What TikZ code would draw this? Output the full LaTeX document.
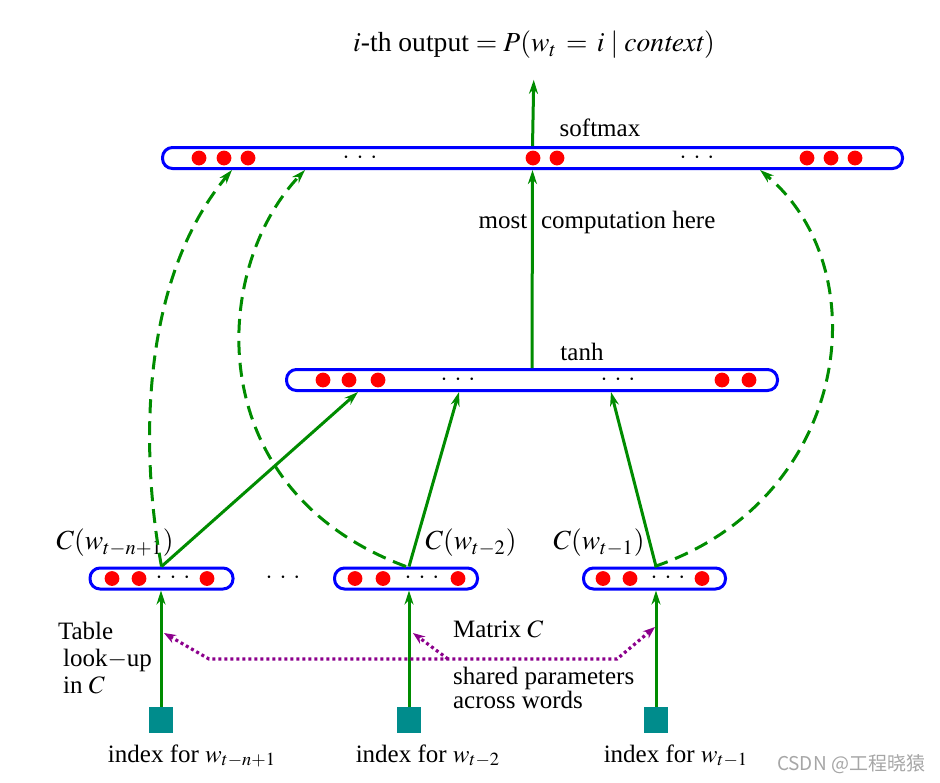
\documentclass[tikz,border=0pt]{standalone}
\usepackage{mathptmx}
\usepackage[no-math]{fontspec}
\setmainfont{Liberation Serif}
\newfontfamily\cjk{Noto Sans CJK SC}
\usetikzlibrary{arrows.meta}

\definecolor{azulcapa}{RGB}{0,0,255}
\definecolor{verdeflecha}{RGB}{0,140,0}
\definecolor{tealindice}{RGB}{0,140,140}
\definecolor{moradoC}{RGB}{140,0,140}

\newcommand{\puntos}{$\cdot$\hspace{3.5pt}$\cdot$\hspace{3.5pt}$\cdot$}

\tikzset{
  capa/.style={draw=azulcapa, line width=1.5pt, rounded corners=5pt, minimum height=10.5pt, inner sep=0pt},
  flecha/.style={draw=verdeflecha, line width=1.5pt, -{Stealth[length=7pt,width=4.5pt]}},
  flechadash/.style={flecha, dash pattern=on 7pt off 4pt},
  indice/.style={fill=tealindice, minimum width=12pt, minimum height=13pt, inner sep=0pt},
  compartido/.style={draw=moradoC, line width=1.6pt, dash pattern=on 1.5pt off 1.5pt, -{Stealth[length=6pt,width=4.5pt]}},
  grande/.style={font=\fontsize{13.8}{15}\selectfont},
}

\begin{document}
\begin{tikzpicture}[x=0.5pt, y=-0.5pt, font=\fontsize{12.5}{13.5}\selectfont]
\useasboundingbox (0,0) rectangle (940,782);

% Capas
\node[capa, minimum width=370pt] (softmax) at (532.5,158) {};
\node[capa, minimum width=245.5pt] (tanh) at (532,380) {};
\node[capa, minimum width=71.5pt] (cA) at (161.5,578.5) {};
\node[capa, minimum width=71.5pt] (cB) at (406,578.5) {};
\node[capa, minimum width=71pt] (cC) at (654.5,578.5) {};

% Unidades (puntos rojos)
\foreach \x in {199,224,248,533,557,807,831,855} \fill[red] (\x,158) circle (3.7pt);
\foreach \x in {323,349,378,722,749} \fill[red] (\x,380) circle (3.7pt);
\foreach \x in {112,139,207,355,383,458,603,630,702} \fill[red] (\x,578.5) circle (3.7pt);

% Puntos suspensivos
\foreach \x/\y [count=\i] in {360/158,697/158,458/380,618/380,173/578.5,422/578.5,668/578.5,283/578.5}
  \node (etc\i) at (\x,\y) {\puntos};

% Indices de palabras
\node[indice] (iA) at (161,720) {};
\node[indice] (iB) at (409,720) {};
\node[indice] (iC) at (656,720) {};

% Etiquetas
\node[grande] (salida) at (534,45) {$i$-th output $= P(w_t \,=\, i\mid \mathit{context})$};
\node (lsoft) at (600,128) {softmax};
\node (ltanh) at (582,352) {tanh};
\node (lmost) at (597,222) {most\hspace{0.55em}computation here};
\node[grande] (CA) at (115,543) {$C(w_{t-n+1})$};
\node[grande] (CB) at (471,543) {$C(w_{t-2})$};
\node[grande] (CC) at (599,543) {$C(w_{t-1})$};
\node (lA) at (192,756) {index for $w_{t-n+1}$};
\node (lB) at (428,756) {index for $w_{t-2}$};
\node (lC) at (676,756) {index for $w_{t-1}$};
\node[align=left] (ltabla) at (105,658) {Table\\ \hspace*{2.5pt}look$-$up\\ \hspace*{2.5pt}in $C$};
\node[anchor=west] (lmat) at (446,629) {Matrix $C$};
\node[align=left, anchor=north west, font=\fontsize{12.5}{12}\selectfont] (lcomp) at (446,660) {shared parameters\\across words};
\node[text=gray!70, font=\cjk\fontsize{9.5}{11}\selectfont] (marca) at (851,764) {CSDN @工程晓猿};

% Puntos de llegada
\coordinate (tA) at (358,392);
\coordinate (tB) at (459,392);
\coordinate (tC) at (611,392);
\coordinate (sA) at (232,170);
\coordinate (sB) at (305,170);
\coordinate (sC) at (760,170);

% Flechas verdes
\draw[flecha, shorten >=7pt] (softmax.north) -- (salida.south);
\draw[flecha] (tanh.north) -- (softmax.south);
\draw[flecha] (cA.north) -- (tA);
\draw[flecha] (cB.north -| iB) -- (tB);
\draw[flecha] (cC.north -| iC) -- (tC);
\draw[flecha] (iA.north) -- (iA.north |- cA.south);
\draw[flecha] (iB.north) -- (iB.north |- cB.south);
\draw[flecha] (iC.north) -- (iC.north |- cC.south);

% Conexiones directas (punteadas)
\draw[flechadash] (cA.north) .. controls (140,450) and (140,280) .. (sA);
\draw[flechadash] (cB.north) .. controls (200,490) and (210,270) .. (sB);
\draw[flechadash] (cC.north) .. controls (850,500) and (880,270) .. (sC);

% Matriz C compartida
\coordinate (pA) at (164,633);
\coordinate (pB) at (413,633);
\coordinate (pC) at (655,627);
\coordinate (pi) at (209,659);
\coordinate (pm) at (448,659);
\coordinate (pd) at (617,659);
\draw[compartido, {Stealth[length=6pt,width=4.5pt]}-{Stealth[length=6pt,width=4.5pt]}] (pA) -- (pi) -- (pd) -- (pC);
\draw[compartido] (pm) -- (pB);

\end{tikzpicture}
\end{document}
